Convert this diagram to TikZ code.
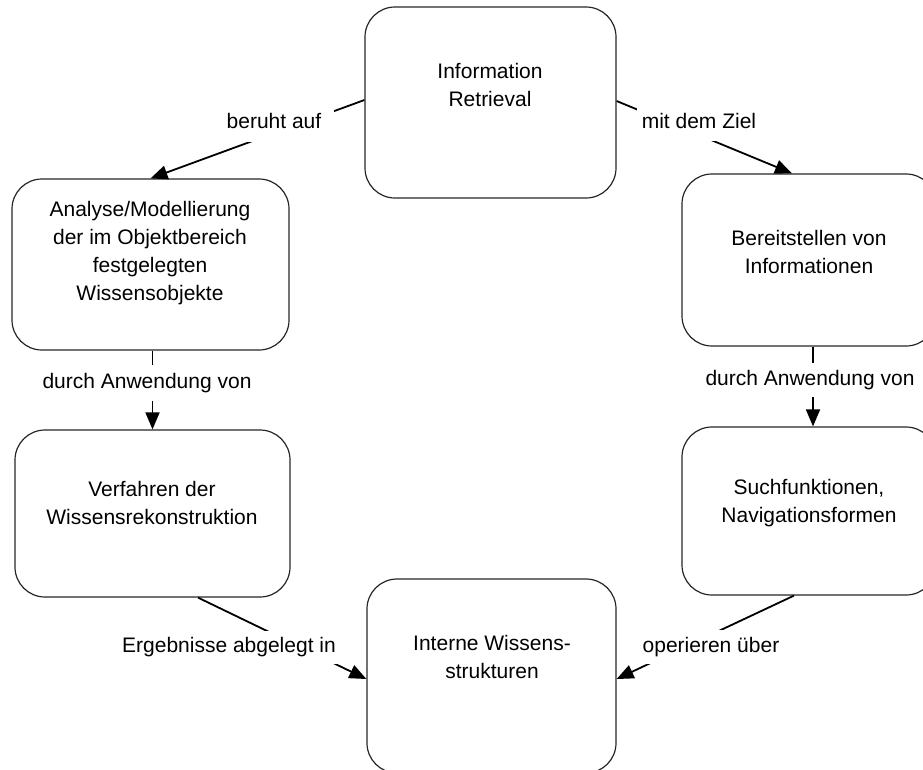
\documentclass[tikz,border=0pt]{standalone}
\usepackage{fontspec}
\setmainfont{Liberation Sans}
\usetikzlibrary{arrows.meta}

\tikzset{
  box/.style={draw=black!85, line width=1.2pt, rounded corners=30pt, inner sep=0pt},
  boxtext/.style={align=center, font=\fontsize{21}{28}\selectfont, inner sep=0pt},
  conn/.style={line width=1.8pt, -{Triangle[length=17pt,width=14pt]}},
  lbl/.style={fill=white, inner xsep=5pt, inner ysep=0pt, font=\fontsize{21}{25}\selectfont}
}

\begin{document}
\begin{tikzpicture}[x=1pt, y=-1pt]
  \useasboundingbox (0,0) rectangle (923,769);

  % boxes
  \node[box, minimum width=251pt, minimum height=191pt] (ir) at (490.5,102.5) {};
  \node[box, minimum width=277pt, minimum height=171pt] (l1) at (150.5,264.5) {};
  \node[box, minimum width=254pt, minimum height=172pt] (r1) at (809,260) {};
  \node[box, minimum width=275pt, minimum height=167pt] (l2) at (152.5,513.5) {};
  \node[box, minimum width=254pt, minimum height=168pt] (r2) at (809,511) {};
  \node[box, minimum width=249pt, minimum height=194pt] (bt) at (491.5,676) {};

  % box texts
  \node[boxtext] (irt) at (490,85) {Information\\Retrieval};
  \node[boxtext] (l1t) at (150,253.5) {Analyse/Modellierung\\der im Objektbereich\\festgelegten\\Wissensobjekte};
  \node[boxtext] (r1t) at (809,252) {Bereitstellen von\\Informationen};
  \node[boxtext] (l2t) at (152,503) {Verfahren der\\Wissensrekonstruktion};
  \node[boxtext] (r2t) at (809,503) {Suchfunktionen,\\Navigationsformen};
  \node[boxtext] (btt) at (492,657) {Interne Wissens-\\strukturen};

  % connectors
  \draw[conn] ([yshift=2.5pt]ir.west) -- (l1.north);
  \draw[conn] ([yshift=1.5pt]ir.east) -- ([xshift=-17pt]r1.north);
  \draw[conn] ([xshift=2pt]l1.south) -- (l2.north);
  \draw[conn] ([xshift=4pt]r1.south) -- ([xshift=4pt]r2.north);
  \draw[conn] ([xshift=45.5pt]l2.south) -- ([yshift=-3pt]bt.west);
  \draw[conn] ([xshift=-15pt]r2.south) -- ([yshift=-3pt]bt.east);

  % connector labels
  \node[lbl, minimum width=119pt, minimum height=42pt] (lb1) at (274,121) {beruht auf};
  \node[lbl, minimum width=122pt, minimum height=41pt] (lb2) at (699,120.5) {mit dem Ziel};
  \node[lbl, minimum height=36pt] (lb3) at (147,383) {durch Anwendung von};
  \node[lbl, minimum height=34pt] (lb4) at (810,380) {durch Anwendung von};
  \node[lbl, minimum width=228pt, minimum height=33pt] (lb5) at (229,647) {Ergebnisse abgelegt in};
  \node[lbl, minimum width=148pt, minimum height=34pt] (lb6) at (711,647) {operieren über};
\end{tikzpicture}
\end{document}
